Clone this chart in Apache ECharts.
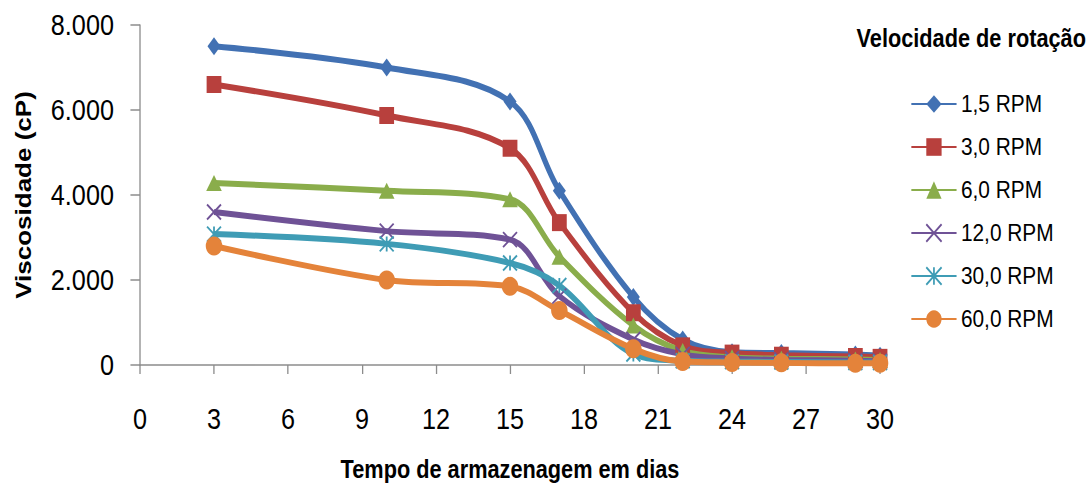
<!DOCTYPE html>
<html>
<head>
<meta charset="utf-8">
<script src="https://cdn.jsdelivr.net/npm/echarts@6/dist/echarts.min.js"></script>
<style>
  html, body { margin: 0; padding: 0; background: #fff; overflow: hidden; width: 1087px; height: 487px; }
  /* The chart is laid out wider and compressed horizontally to give the narrow lettering */
  #chart { width: 1250px; height: 487px; transform: scaleX(0.8696); transform-origin: 0 0; }
</style>
</head>
<body>
<div id="chart"></div>
<script>
// Storage time (days) at which viscosity was measured
const days = [3, 10, 15, 17, 20, 22, 24, 26, 29, 30];

// Viscosity (cP) for each rotation speed
const rpm1_5  = [7500, 7000, 6200, 4100, 1600, 600, 300, 280, 250, 220];
const rpm3_0  = [6600, 5870, 5100, 3350, 1230, 450, 280, 230, 200, 180];
const rpm6_0  = [4280, 4100, 3900, 2550, 930, 330, 180, 150, 130, 120];
const rpm12_0 = [3600, 3150, 2950, 1620, 600, 250, 150, 120, 100, 90];
const rpm30_0 = [3080, 2850, 2400, 1870, 260, 100, 80, 70, 60, 60];
const rpm60_0 = [2800, 2000, 1850, 1280, 380, 80, 60, 50, 40, 40];

const seriesNames = ['1,5 RPM', '3,0 RPM', '6,0 RPM', '12,0 RPM', '30,0 RPM', '60,0 RPM'];
const seriesValues = [rpm1_5, rpm3_0, rpm6_0, rpm12_0, rpm30_0, rpm60_0];
const colors = ['#4271b3', '#b8403d', '#8aad4b', '#6f5296', '#3f9cb5', '#e4833a'];

const xTicks = { min: 0, max: 30, interval: 3 };
const yTicks = { min: 0, max: 8000, interval: 2000 };

const FONT = "'Liberation Sans', Arial, sans-serif";

const markers = [
  { symbol: 'diamond', size: [15, 18] },
  { symbol: 'rect', size: [17, 17] },
  { symbol: 'triangle', size: [18, 16] },
  { symbol: 'path://M0,0 L10,10 M10,0 L0,10', size: [16, 15], stroke: true },
  { symbol: 'path://M5,0 L5,10 M0,0 L10,10 M10,0 L0,10', size: [16, 15], stroke: true },
  { symbol: 'circle', size: 19 }
];

function formatThousands(v) {
  return String(v).replace(/\B(?=(\d{3})+(?!\d))/g, '.');
}

const series = seriesNames.map((name, i) => {
  const m = markers[i];
  const s = {
    name: name,
    type: 'line',
    smooth: 0.35,
    data: days.map((d, k) => [d, seriesValues[i][k]]),
    symbol: m.symbol,
    symbolSize: m.size,
    showAllSymbol: true,
    lineStyle: { color: colors[i], width: 6 },
    itemStyle: { color: colors[i] },
    emphasis: { disabled: true }
  };
  if (m.stroke) {
    s.itemStyle = { color: 'none', borderColor: colors[i], borderWidth: 2 };
  }
  return s;
});

const chart = echarts.init(document.getElementById('chart'), null, { renderer: 'svg' });
chart.setOption({
  animation: false,
  backgroundColor: '#ffffff',
  color: colors,
  title: {
    text: 'Velocidade de rotação',
    left: 985,
    top: 26,
    padding: 0,
    textStyle: { fontFamily: FONT, fontWeight: 'bold', fontSize: 25, color: '#000' }
  },
  legend: {
    orient: 'vertical',
    left: 1047,
    top: 92,
    padding: 0,
    itemWidth: 52,
    itemHeight: 22,
    itemGap: 19,
    data: seriesNames,
    textStyle: { fontFamily: FONT, fontSize: 24, color: '#000' }
  },
  grid: { left: 161, right: 238, top: 25, bottom: 119, containLabel: false },
  xAxis: {
    type: 'value',
    min: xTicks.min,
    max: xTicks.max,
    interval: xTicks.interval,
    name: 'Tempo de armazenagem em dias',
    nameLocation: 'middle',
    nameGap: 92,
    nameTextStyle: { fontFamily: FONT, fontWeight: 'bold', fontSize: 25, color: '#000' },
    axisLine: { lineStyle: { color: '#8c8c8c', width: 1.5 } },
    axisTick: { show: true, length: 9, lineStyle: { color: '#8c8c8c', width: 1.5 } },
    axisLabel: { margin: 39, fontFamily: FONT, fontSize: 29, color: '#000' },
    splitLine: { show: false }
  },
  yAxis: {
    type: 'value',
    min: yTicks.min,
    max: yTicks.max,
    interval: yTicks.interval,
    name: 'Viscosidade (cP)',
    nameLocation: 'middle',
    nameGap: 121,
    nameTextStyle: { fontFamily: FONT, fontWeight: 'bold', fontSize: 26, color: '#000' },
    axisLine: { show: true, lineStyle: { color: '#8c8c8c', width: 1.5 } },
    axisTick: { show: true, length: 11, lineStyle: { color: '#8c8c8c', width: 1.5 } },
    axisLabel: { margin: 30, fontFamily: FONT, fontSize: 29, color: '#000', formatter: formatThousands },
    splitLine: { show: false }
  },
  series: series
});
</script>
</body>
</html>
